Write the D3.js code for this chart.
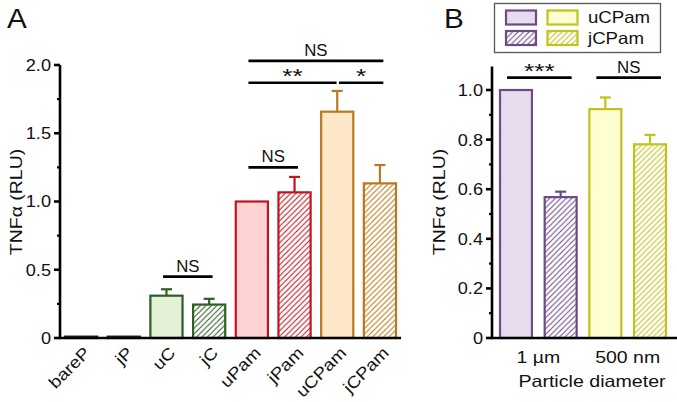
<!DOCTYPE html>
<meta charset="utf-8" />
<style>
  body { margin: 0; background: #fff; }
  text { font-family: "Liberation Sans", Arial, sans-serif; fill: #111; }
</style>
<body>
<script src="https://cdn.jsdelivr.net/npm/d3@7"></script>
<script>
// panel A data
var catsA = ["bareP", "jP", "uC", "jC", "uPam", "jPam", "uCPam", "jCPam"];
var valsA = [0.01, 0.01, 0.31, 0.245, 1.0, 1.067, 1.658, 1.133];
var errsA = [0, 0, 0.047, 0.042, 0, 0.113, 0.152, 0.134];
var hatchA = [false, true, false, true, false, true, false, true];
var groupA = ["bare", "bare", "c", "c", "pam", "pam", "cpam", "cpam"];
var ticksA = [0, 0.5, 1.0, 1.5, 2.0];
var ticksLabA = ["0", "0.5", "1.0", "1.5", "2.0"];
// significance brackets: [from, to, level, label]
var sigA = [
  ["uC", "jC", 0.45, "NS"],
  ["uPam", "jPam", 1.25, "NS"],
  ["uPam", "uCPam", 1.87, "**"],
  ["uCPam", "jCPam", 1.87, "*"],
  ["uPam", "jCPam", 2.03, "NS"]
];

// panel B data
var groupsB = ["1 µm", "500 nm"];
var catsB = ["u1", "j1", "u500", "j500"];
var valsB = [1.0, 0.568, 0.923, 0.781];
var errsB = [0, 0.022, 0.047, 0.038];
var hatchB = [false, true, false, true];
var groupB = ["purple", "purple", "yellow", "yellow"];
var ticksB = [0, 0.2, 0.4, 0.6, 0.8, 1.0];
var ticksLabB = ["0", "0.2", "0.4", "0.6", "0.8", "1.0"];
var sigB = [["u1", "j1", 1.05, "***"], ["u500", "j500", 1.05, "NS"]];
var legendB = ["uCPam", "jCPam"];

var colors = {
  bare:   { stroke: "#222", fill: "#222" },
  c:      { stroke: "#2e5e23", fill: "#e3f2d6" },
  pam:    { stroke: "#c0151f", fill: "#fdd3d3" },
  cpam:   { stroke: "#b67a1f", fill: "#fee6c8" },
  purple: { stroke: "#6f4a86", fill: "#e6dcee" },
  yellow: { stroke: "#c2c21c", fill: "#fefed2" }
};

var svg = d3.select("body").append("svg")
  .attr("width", 677).attr("height", 402);

// text with a horizontal stretch along the writing direction
function txt(g, x, y, s, o) {
  o = o || {};
  var t = "translate(" + x + "," + y + ")";
  if (o.rot) t += " rotate(" + o.rot + ")";
  t += " scale(" + (o.sx || 1.15) + ",1)";
  return g.append("text")
    .attr("transform", t)
    .attr("text-anchor", o.anchor || "start")
    .attr("dy", o.dy || null)
    .style("font-size", (o.size || 16.5) + "px")
    .text(s);
}

var defs = svg.append("defs");
Object.keys(colors).forEach(function(k) {
  var p = defs.append("pattern")
    .attr("id", "hatch-" + k)
    .attr("patternUnits", "userSpaceOnUse")
    .attr("width", 5.5).attr("height", 5.5);
  p.append("rect").attr("width", 5.5).attr("height", 5.5).attr("fill", "#fff");
  p.append("path")
    .attr("d", "M0,5.5 L5.5,0 M-1,1 L1,-1 M4.5,6.5 L6.5,4.5")
    .attr("stroke", colors[k].stroke)
    .attr("stroke-width", 1.1);
});

function drawPanel(o) {
  var g = svg.append("g");
  var x = d3.scaleBand().domain(o.cats).range(o.xr).paddingInner(o.pad);
  var y = d3.scaleLinear().domain([0, o.ymax]).range([338, o.ytop]);

  // bars
  g.selectAll("rect.bar").data(o.cats).enter().append("rect")
    .attr("class", "bar")
    .attr("x", function(d) { return x(d) + 1; })
    .attr("width", x.bandwidth() - 2)
    .attr("y", function(d, i) { return y(o.vals[i]); })
    .attr("height", function(d, i) { return y(0) - y(o.vals[i]); })
    .attr("fill", function(d, i) {
      var c = o.groups[i];
      return o.hatch[i] ? "url(#hatch-" + c + ")" : colors[c].fill;
    })
    .attr("stroke", function(d, i) { return colors[o.groups[i]].stroke; })
    .attr("stroke-width", 2.2);

  // error bars
  o.cats.forEach(function(d, i) {
    if (!o.errs[i]) return;
    var cx = x(d) + x.bandwidth() / 2;
    var c = colors[o.groups[i]].stroke;
    g.append("line").attr("x1", cx).attr("x2", cx)
      .attr("y1", y(o.vals[i])).attr("y2", y(o.vals[i] + o.errs[i]))
      .attr("stroke", c).attr("stroke-width", 2.2);
    g.append("line").attr("x1", cx - 5.5).attr("x2", cx + 5.5)
      .attr("y1", y(o.vals[i] + o.errs[i])).attr("y2", y(o.vals[i] + o.errs[i]))
      .attr("stroke", c).attr("stroke-width", 2.2);
  });

  // y axis
  var ax = g.append("g").attr("transform", "translate(" + o.ax + ",0)");
  ax.append("line").attr("y1", y(0) + 1).attr("y2", y(o.ytopVal))
    .attr("stroke", "#000").attr("stroke-width", 2.6);
  ax.selectAll("line.minor").data(o.minor).enter().append("line")
    .attr("x1", -3).attr("x2", 0)
    .attr("y1", function(d) { return y(d); }).attr("y2", function(d) { return y(d); })
    .attr("stroke", "#000").attr("stroke-width", 2.2);
  ax.selectAll("line.major").data(o.ticks).enter().append("line")
    .attr("x1", -6).attr("x2", 0)
    .attr("y1", function(d) { return y(d); }).attr("y2", function(d) { return y(d); })
    .attr("stroke", "#000").attr("stroke-width", 2.6);
  o.ticks.forEach(function(d, i) {
    txt(ax, -9, y(d), o.tickLabs[i], { anchor: "end", dy: "0.36em", sx: 1.1 });
  });

  // x axis
  g.append("line").attr("x1", o.ax - 1.3).attr("x2", o.xend)
    .attr("y1", y(0)).attr("y2", y(0))
    .attr("stroke", "#000").attr("stroke-width", 2.6);

  // y label
  txt(g, o.ylabX, 202, "TNFα (RLU)", { rot: -90, anchor: "middle", dy: "0.36em", sx: 1.18 });

  // significance
  o.sig.forEach(function(s) {
    var x1 = x(s[0]) + x.bandwidth() * 0.4;
    var x2 = x(s[1]) + x.bandwidth() * 0.6;
    if (s[3] === "*") x1 = x(s[0]) + x.bandwidth() * 0.55;
    if (s[3] === "**") x2 = x(s[1]) + x.bandwidth() * 0.48;
    if (o.sigFull) { x1 = x(s[0]) + 8; x2 = x(s[1]) + x.bandwidth() - 6; }
    var yy = y(s[2]);
    g.append("line").attr("x1", x1).attr("x2", x2)
      .attr("y1", yy).attr("y2", yy)
      .attr("stroke", "#000").attr("stroke-width", 2.6);
    var isStar = s[3].indexOf("*") === 0;
    txt(g, (x1 + x2) / 2, yy - (isStar ? 0 : 5), s[3], {
      anchor: "middle", size: isStar ? 21 : 16.5, sx: isStar ? 1.25 : 1.02
    });
  });

  return { g: g, x: x, y: y };
}

var A = drawPanel({
  cats: catsA, vals: valsA, errs: errsA, hatch: hatchA, groups: groupA,
  xr: [64, 397], pad: 0.2, ymax: 2.0, ytop: 65, ytopVal: 2.0,
  ticks: ticksA, tickLabs: ticksLabA, minor: [0.25, 0.75, 1.25, 1.75],
  ax: 60, xend: 401, ylabX: 16, sig: sigA
});

// rotated category labels
catsA.forEach(function(d) {
  txt(A.g, A.x(d) + A.x.bandwidth() / 2 + 10, 354, d, { rot: -45, anchor: "end", sx: 1.14 });
});

var B = drawPanel({
  cats: catsB, vals: valsB, errs: errsB, hatch: hatchB, groups: groupB,
  xr: [499, 667], pad: 0.24, ymax: 1.0, ytop: 90, ytopVal: 1.095,
  ticks: ticksB, tickLabs: ticksLabB,
  minor: [0.1, 0.3, 0.5, 0.7, 0.9],
  ax: 492, xend: 677, ylabX: 439, sig: sigB, sigFull: true
});

// group labels panel B
groupsB.forEach(function(d, i) {
  var cx = (B.x(catsB[i * 2]) + B.x(catsB[i * 2 + 1]) + B.x.bandwidth()) / 2;
  txt(B.g, cx, 363, d, { anchor: "middle", sx: 1.18 });
});
txt(B.g, 592, 387, "Particle diameter", { anchor: "middle", sx: 1.19 });

// legend
var lg = svg.append("g");
lg.append("rect").attr("x", 494.5).attr("y", 3.5).attr("width", 166).attr("height", 49)
  .attr("fill", "#fff").attr("stroke", "#555").attr("stroke-width", 1.3);
legendB.forEach(function(name, r) {
  ["purple", "yellow"].forEach(function(c, k) {
    lg.append("rect")
      .attr("x", 506 + k * 41.5).attr("y", 10.5 + r * 20.5)
      .attr("width", 30).attr("height", 14)
      .attr("fill", r ? "url(#hatch-" + c + ")" : colors[c].fill)
      .attr("stroke", colors[c].stroke).attr("stroke-width", 2.2);
  });
  txt(lg, 588, 17.5 + r * 20.5, name, { dy: "0.36em", sx: 1.13 });
});

// panel letters
txt(svg, 7, 28, "A", { size: 28, sx: 1.06 });
txt(svg, 444, 28, "B", { size: 28, sx: 1.06 });
</script>
</body>
